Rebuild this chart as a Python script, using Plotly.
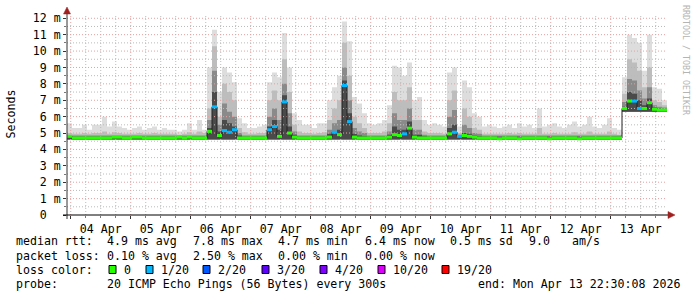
import plotly.graph_objects as go
import pandas as pd

# ---------------- data ----------------
START = "2026-04-03 22:30:08"
END = "2026-04-13 22:30:08"
edges = pd.date_range(START, END, freq="2h")  # 121 bin edges, 120 bins of 2 h

median_ms = [
    4.8, 4.7, 4.7, 4.7, 4.7, 4.7, 4.7, 4.7, 4.7, 4.75,
    4.75, 4.7, 4.7, 4.75, 4.75, 4.7, 4.7, 4.7, 4.7, 4.7,
    4.7, 4.7, 4.75, 4.7, 4.75, 4.7, 4.7, 4.7, 5.1, 6.6,
    4.85, 5.15, 5.05, 5.2, 4.7, 4.7, 4.7, 4.7, 4.7, 4.7,
    5.2, 5.4, 4.8, 6.9, 5.0, 4.75, 4.7, 4.7, 4.7, 4.7,
    4.7, 4.7, 4.75, 5.05, 4.9, 7.9, 5.7, 4.75, 4.7, 4.7,
    4.7, 4.7, 4.7, 4.7, 4.75, 4.9, 4.85, 4.95, 5.3, 4.75,
    4.7, 4.7, 4.7, 4.7, 4.7, 4.7, 4.95, 5.05, 4.8, 4.85,
    4.8, 4.75, 4.7, 4.7, 4.7, 4.7, 4.65, 4.7, 4.7, 4.7,
    4.65, 4.7, 4.7, 4.7, 4.7, 4.7, 4.65, 4.7, 4.7, 4.7,
    4.7, 4.7, 4.65, 4.7, 4.7, 4.7, 4.7, 4.7, 4.7, 4.7,
    4.7, 6.5, 6.95, 6.95, 6.5, 6.5, 6.85, 6.45, 6.4, 6.4,
]

loss_count = [
    0, 0, 0, 0, 0, 0, 0, 0, 0, 0,
    0, 0, 0, 0, 0, 0, 0, 0, 0, 0,
    0, 0, 0, 0, 0, 0, 0, 0, 0, 1,
    0, 1, 1, 1, 0, 0, 0, 0, 0, 0,
    1, 1, 0, 1, 0, 0, 0, 0, 0, 0,
    0, 0, 0, 1, 0, 1, 1, 0, 0, 0,
    0, 0, 0, 0, 0, 0, 0, 1, 0, 0,
    0, 0, 0, 0, 0, 0, 0, 1, 1, 0,
    0, 0, 0, 0, 0, 0, 0, 0, 0, 0,
    0, 0, 0, 0, 0, 0, 0, 0, 0, 0,
    0, 0, 0, 0, 0, 0, 0, 0, 0, 0,
    0, 0, 0, 1, 1, 0, 0, 0, 0, 0,
]

smoke_max = [
    5.6, 5.3, 5.3, 5.5, 5.2, 5.5, 5.5, 6.0, 5.4, 5.7,
    5.4, 5.3, 5.2, 5.3, 5.4, 5.2, 5.3, 5.4, 5.2, 5.3,
    5.2, 5.2, 5.1, 5.2, 5.6, 5.2, 5.8, 5.2, 9.0, 11.3,
    7.5, 9.0, 8.7, 8.1, 5.9, 5.6, 5.3, 5.3, 5.4, 5.5,
    8.1, 8.7, 8.4, 11.1, 9.0, 6.2, 5.8, 5.5, 5.5, 5.3,
    5.6, 5.6, 7.0, 7.8, 8.5, 11.8, 10.6, 7.2, 6.8, 6.2,
    5.6, 5.5, 5.6, 5.8, 6.7, 9.1, 9.0, 8.5, 9.3, 7.0,
    7.2, 5.8, 5.5, 5.6, 5.5, 5.4, 8.7, 9.0, 5.4, 8.2,
    7.8, 6.2, 6.0, 5.4, 5.5, 5.4, 5.3, 5.4, 5.5, 5.3,
    5.6, 5.4, 5.5, 5.3, 6.5, 5.4, 5.5, 5.6, 5.4, 5.3,
    5.5, 5.7, 5.4, 5.5, 6.0, 5.4, 5.3, 5.5, 5.9, 5.3,
    5.2, 8.4, 11.0, 10.8, 10.5, 8.8, 11.0, 7.8, 7.7, 7.0,
]

smoke_p90 = [
    5.0, 4.95, 4.95, 5.0, 4.95, 5.0, 5.0, 5.1, 4.95, 5.05,
    5.0, 4.95, 4.95, 4.95, 5.0, 4.95, 4.95, 5.0, 4.95, 4.95,
    4.95, 4.95, 4.9, 4.95, 5.05, 4.95, 5.1, 5.0, 6.5, 10.3,
    6.0, 8.0, 7.5, 7.0, 5.3, 5.05, 4.95, 4.95, 5.0, 5.0,
    7.0, 7.6, 7.0, 9.5, 7.5, 5.5, 5.1, 5.0, 5.0, 4.95,
    5.0, 5.05, 5.8, 6.5, 7.0, 10.5, 8.5, 6.0, 5.6, 5.3,
    5.0, 5.0, 5.0, 5.1, 5.6, 7.5, 7.0, 7.0, 7.8, 5.8,
    5.8, 5.1, 5.0, 5.0, 5.0, 4.95, 7.0, 7.6, 5.0, 6.5,
    6.0, 5.3, 5.2, 4.95, 4.95, 4.95, 4.95, 4.95, 5.0, 4.95,
    5.0, 4.95, 4.95, 4.95, 5.3, 4.95, 4.95, 5.0, 4.95, 4.95,
    4.95, 5.05, 4.95, 4.95, 5.1, 4.95, 4.95, 4.95, 5.1, 4.95,
    4.9, 7.4, 9.5, 9.3, 8.8, 7.8, 9.0, 7.0, 6.9, 6.7,
]

smoke_p75 = [
    4.85, 4.85, 4.85, 4.85, 4.85, 4.85, 4.85, 4.85, 4.85, 4.85,
    4.85, 4.85, 4.85, 4.85, 4.85, 4.85, 4.85, 4.85, 4.85, 4.85,
    4.85, 4.85, 4.85, 4.85, 4.85, 4.85, 4.85, 4.85, 5.8, 8.8,
    5.5, 6.8, 6.3, 6.0, 5.0, 4.85, 4.85, 4.85, 4.85, 4.85,
    6.0, 6.5, 5.8, 8.0, 6.2, 5.1, 4.85, 4.85, 4.85, 4.85,
    4.85, 4.85, 5.2, 5.6, 5.8, 9.0, 7.0, 5.3, 5.1, 5.0,
    4.85, 4.85, 4.85, 4.85, 5.1, 6.2, 5.8, 5.8, 6.5, 5.2,
    5.2, 4.9, 4.85, 4.85, 4.85, 4.85, 6.0, 6.4, 4.9, 5.5,
    5.3, 5.0, 4.95, 4.85, 4.85, 4.85, 4.85, 4.85, 4.85, 4.85,
    4.85, 4.85, 4.85, 4.85, 4.85, 4.85, 4.85, 4.85, 4.85, 4.85,
    4.85, 4.85, 4.85, 4.85, 4.85, 4.85, 4.85, 4.85, 4.85, 4.85,
    4.85, 6.9, 8.3, 8.2, 7.6, 7.1, 7.8, 6.7, 6.6, 6.55,
]

smoke_p60 = [
    4.78, 4.78, 4.78, 4.78, 4.78, 4.78, 4.78, 4.78, 4.78, 4.78,
    4.78, 4.78, 4.78, 4.78, 4.78, 4.78, 4.78, 4.78, 4.78, 4.78,
    4.78, 4.78, 4.78, 4.78, 4.78, 4.78, 4.78, 4.78, 5.3, 7.5,
    5.1, 5.8, 5.6, 5.4, 4.85, 4.78, 4.78, 4.78, 4.78, 4.78,
    5.4, 5.8, 5.2, 7.3, 5.4, 4.9, 4.78, 4.78, 4.78, 4.78,
    4.78, 4.78, 4.95, 5.1, 5.2, 8.2, 6.2, 4.95, 4.85, 4.8,
    4.78, 4.78, 4.78, 4.78, 4.9, 5.4, 5.2, 5.2, 5.7, 4.9,
    4.9, 4.8, 4.78, 4.78, 4.78, 4.78, 5.3, 5.5, 4.85, 5.0,
    4.95, 4.85, 4.8, 4.78, 4.78, 4.78, 4.78, 4.78, 4.78, 4.78,
    4.78, 4.78, 4.78, 4.78, 4.78, 4.78, 4.78, 4.78, 4.78, 4.78,
    4.78, 4.78, 4.78, 4.78, 4.78, 4.78, 4.78, 4.78, 4.78, 4.78,
    4.78, 6.6, 7.5, 7.4, 7.0, 6.7, 7.1, 6.55, 6.5, 6.45,
]

smoke_min = [
    4.6, 4.6, 4.6, 4.6, 4.6, 4.6, 4.6, 4.6, 4.6, 4.6,
    4.6, 4.6, 4.6, 4.6, 4.6, 4.6, 4.6, 4.6, 4.6, 4.6,
    4.6, 4.6, 4.6, 4.6, 4.6, 4.6, 4.6, 4.6, 4.6, 4.6,
    4.6, 4.6, 4.6, 4.6, 4.6, 4.6, 4.6, 4.6, 4.6, 4.6,
    4.6, 4.6, 4.6, 4.6, 4.6, 4.6, 4.6, 4.6, 4.6, 4.6,
    4.6, 4.6, 4.6, 4.6, 4.6, 4.6, 4.6, 4.6, 4.6, 4.6,
    4.6, 4.6, 4.6, 4.6, 4.6, 4.6, 4.6, 4.6, 4.6, 4.6,
    4.6, 4.6, 4.6, 4.6, 4.6, 4.6, 4.6, 4.6, 4.6, 4.6,
    4.6, 4.6, 4.6, 4.6, 4.6, 4.6, 4.6, 4.6, 4.6, 4.6,
    4.6, 4.6, 4.6, 4.6, 4.6, 4.6, 4.6, 4.6, 4.6, 4.6,
    4.6, 4.6, 4.6, 4.6, 4.6, 4.6, 4.6, 4.6, 4.6, 4.6,
    4.6, 6.3, 6.3, 6.3, 6.3, 6.3, 6.3, 6.3, 6.3, 6.3,
]

y_tick_vals = [0, 1, 2, 3, 4, 5, 6, 7, 8, 9, 10, 11, 12]
y_tick_text = ["0\u00a0\u00a0", "1 m", "2 m", "3 m", "4 m", "5 m", "6 m", "7 m",
               "8 m", "9 m", "10 m", "11 m", "12 m"]

loss_labels = ["0", "1/20", "2/20", "3/20", "4/20", "10/20", "19/20"]
loss_colors = ["#26ff00", "#00b8ff", "#0059ff", "#5e00ff", "#7e00ff", "#dd00ff", "#ff0000"]

legend_rtt = ["median rtt:", "4.9 ms avg", "7.8 ms max", "4.7 ms min", "6.4 ms now",
              "0.5 ms sd", "9.0", "am/s"]
legend_loss = ["packet loss:", "0.10 % avg", "2.50 % max", "0.00 % min", "0.00 % now"]
probe_text = "20 ICMP Echo Pings (56 Bytes) every 300s"
end_text = "end: Mon Apr 13 22:30:08 2026"

# ---------------- geometry (pixels) ----------------
W, H = 697, 297
PL, PR, PT, PB = 67, 667, 15, 215
Y_TOP = 12.2
FONT = "DejaVu Sans Mono"
FS = 11.6


def px(x):
    return (x - PL) / (PR - PL)


def py(y):
    return (PB - y) / (PB - PT)


xs = [e.strftime("%Y-%m-%d %H:%M:%S") for e in edges]


def step(v):
    return list(v) + [v[-1]]


fig = go.Figure()

# smoke bands (outer light -> inner dark)
bands = [(smoke_max, "#dddddd"), (smoke_p90, "#bdbdbd"),
         (smoke_p75, "#8a8a8a"), (smoke_p60, "#4a4a4a")]
for top, col in bands:
    fig.add_trace(go.Scatter(x=xs, y=step(smoke_min), mode="lines",
                             line=dict(width=0, shape="hv"), hoverinfo="skip"))
    fig.add_trace(go.Scatter(x=xs, y=step(top), mode="lines", fill="tonexty",
                             fillcolor=col, line=dict(width=0, shape="hv"),
                             hoverinfo="skip"))

# grid drawn over the smoke (rrdtool style)
grid_days = pd.date_range("2026-04-04", "2026-04-13", freq="1D")
grid_6h = [d for d in pd.date_range("2026-04-03 06:00", END, freq="6h") if d.hour != 0]


def vlines(ds):
    gx, gy = [], []
    for d in ds:
        s = d.strftime("%Y-%m-%d %H:%M:%S")
        gx += [s, s, None]
        gy += [0, Y_TOP, None]
    return gx, gy


def hlines(vals):
    gx, gy = [], []
    for v in vals:
        gx += [START, END, None]
        gy += [v, v, None]
    return gx, gy


minor_col = "#bbbbbb"
major_col = "#e4a0a0"
dash = "1px,2px"
gx, gy = vlines([d for d in grid_6h if pd.Timestamp(START) < d < pd.Timestamp(END)])
fig.add_trace(go.Scatter(x=gx, y=gy, mode="lines", line=dict(color=minor_col, width=1, dash=dash), hoverinfo="skip"))
gx, gy = hlines([v + 0.5 for v in y_tick_vals[:-1]])
fig.add_trace(go.Scatter(x=gx, y=gy, mode="lines", line=dict(color=minor_col, width=1, dash=dash), hoverinfo="skip"))
gx, gy = vlines(grid_days)
fig.add_trace(go.Scatter(x=gx, y=gy, mode="lines", line=dict(color=major_col, width=1, dash=dash), hoverinfo="skip"))
gx, gy = hlines(y_tick_vals[1:])
fig.add_trace(go.Scatter(x=gx, y=gy, mode="lines", line=dict(color=major_col, width=1, dash=dash), hoverinfo="skip"))

# median line (thin dark) and loss-coloured thick segments
fig.add_trace(go.Scatter(x=xs, y=step(median_ms), mode="lines",
                         line=dict(color="#202020", width=1, shape="hv"), hoverinfo="skip"))
loss_thresholds = [0, 1, 2, 3, 4, 10, 19]
for ci, thr in enumerate(loss_thresholds):
    nxt = loss_thresholds[ci + 1] if ci + 1 < len(loss_thresholds) else 21
    sx, sy = [], []
    for i, m in enumerate(median_ms):
        if thr <= loss_count[i] < nxt:
            sx += [xs[i], xs[i + 1], None]
            sy += [m, m, None]
    if sx:
        fig.add_trace(go.Scatter(x=sx, y=sy, mode="lines",
                                 line=dict(color=loss_colors[ci], width=3),
                                 hoverinfo="skip"))

# ---------------- axes ----------------
fig.update_xaxes(type="date", range=[START, END], showgrid=False, zeroline=False,
                 tick0="2026-04-04", dtick=86400000, ticklabelmode="period",
                 tickformat="%d %b", ticks="outside", ticklen=3, tickcolor="#333333",
                 tickfont=dict(family=FONT, size=FS, color="#000000"),
                 minor=dict(dtick=6 * 3600000, tick0="2026-04-04", ticks="outside",
                            ticklen=2, tickcolor="#777777", showgrid=False),
                 showline=False, fixedrange=True)
fig.update_yaxes(range=[0, Y_TOP], showgrid=False, zeroline=False,
                 tickmode="array", tickvals=y_tick_vals, ticktext=y_tick_text,
                 ticks="outside", ticklen=3, tickcolor="#333333",
                 tickfont=dict(family=FONT, size=FS, color="#000000"),
                 minor=dict(tickmode="linear", tick0=0, dtick=0.5, ticks="outside",
                            ticklen=2, tickcolor="#777777", showgrid=False),
                 showline=False, fixedrange=True)

shapes = []
# axis lines
shapes.append(dict(type="line", xref="paper", yref="paper", x0=px(67), x1=px(67),
                   y0=py(219), y1=py(12), line=dict(color="#333333", width=1)))
shapes.append(dict(type="line", xref="paper", yref="paper", x0=px(63), x1=px(670),
                   y0=py(215), y1=py(215), line=dict(color="#000000", width=1)))
arrow_col = "#a02020"
shapes.append(dict(type="path", xref="paper", yref="paper",
                   path=f"M {px(67)} {py(7)} L {px(63.5)} {py(14)} L {px(70.5)} {py(14)} Z",
                   fillcolor=arrow_col, line=dict(color=arrow_col, width=0.5)))
shapes.append(dict(type="path", xref="paper", yref="paper",
                   path=f"M {px(675)} {py(215)} L {px(668)} {py(211.5)} L {px(668)} {py(218.5)} Z",
                   fillcolor=arrow_col, line=dict(color=arrow_col, width=0.5)))

annotations = []


def text_at(x, y, s, **kw):
    d = dict(xref="paper", yref="paper", x=px(x), y=py(y), text=s, showarrow=False,
             xanchor="left", yanchor="middle", borderpad=0, borderwidth=0,
             font=dict(family=FONT, size=FS, color="#000000"))
    d.update(kw)
    annotations.append(d)


# legend line 1
for xpos, s in zip([16, 107, 193, 278, 365, 450, 529, 572], legend_rtt):
    text_at(xpos, 241, s)
# legend line 2
for xpos, s in zip([16, 107, 193, 278, 365], legend_loss):
    text_at(xpos, 255.5, s)
# legend line 3
text_at(16, 269.5, "loss color:")
box_x = [109, 146, 203, 262, 320, 378, 442]
for bx, lab, col in zip(box_x, loss_labels, loss_colors):
    shapes.append(dict(type="rect", xref="paper", yref="paper", x0=px(bx), x1=px(bx + 7),
                       y0=py(273.5), y1=py(265.5), fillcolor=col,
                       line=dict(color="#000000", width=1)))
    text_at(bx + 14.5, 269.5, lab)
# legend line 4
text_at(16, 283.5, "probe:")
text_at(107, 283.5, probe_text)
text_at(478, 283.5, end_text)

# y title
annotations.append(dict(xref="paper", yref="paper", x=px(10.5), y=py(114), text="Seconds",
                        showarrow=False, textangle=-90, xanchor="center", yanchor="middle",
                        font=dict(family=FONT, size=FS, color="#000000")))
# watermark
annotations.append(dict(xref="paper", yref="paper", x=px(686), y=py(60),
                        text="RRDTOOL / TOBI OETIKER", showarrow=False, textangle=90,
                        xanchor="center", yanchor="middle",
                        font=dict(family=FONT, size=8.3, color="#b4b4b4")))

fig.update_layout(width=W, height=H, margin=dict(l=PL, r=W - PR, t=PT, b=H - PB),
                  paper_bgcolor="#ffffff", plot_bgcolor="#ffffff", showlegend=False,
                  shapes=shapes, annotations=annotations)

fig.write_html("out.html")
